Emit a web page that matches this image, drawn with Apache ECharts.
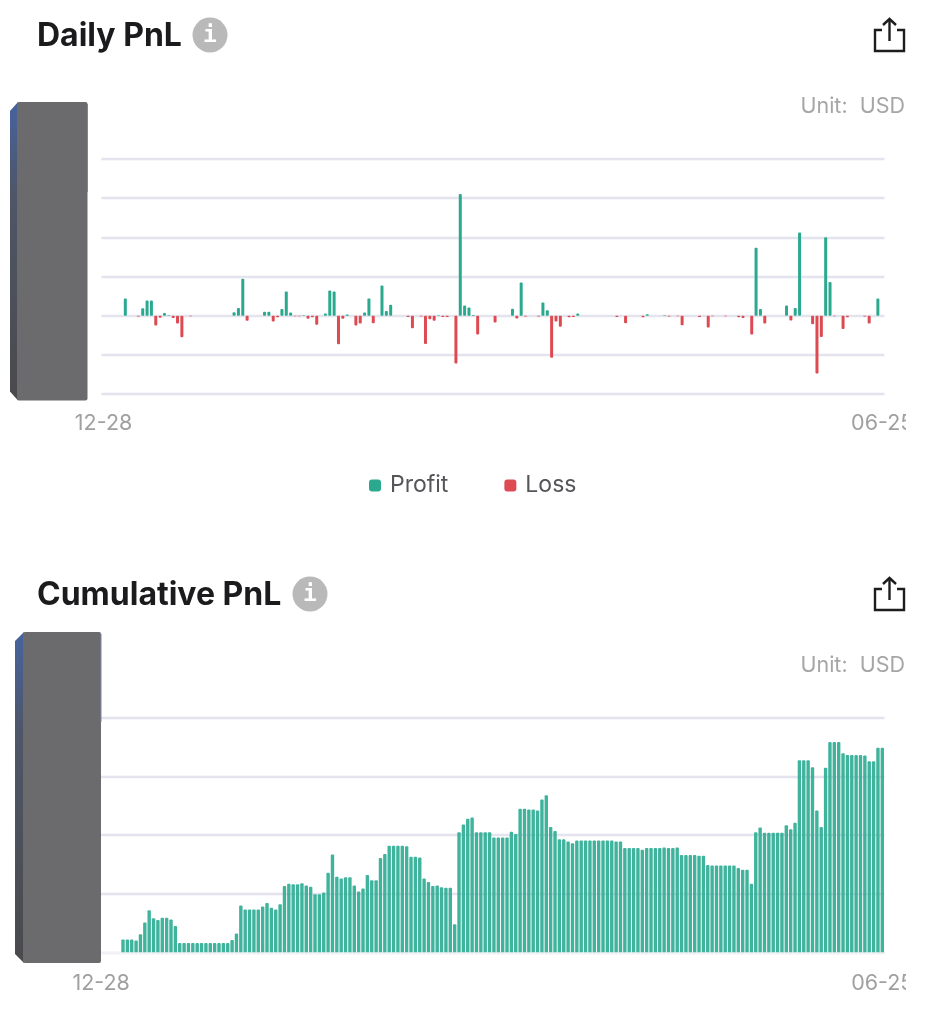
<!DOCTYPE html>
<html><head><meta charset="utf-8">
<style>html,body{margin:0;padding:0;background:#fff}#c{width:944px;height:1024px}</style>
<script src="https://cdn.jsdelivr.net/npm/echarts@6/dist/echarts.min.js"></script>
</head><body><div id="c"></div>
<script>
const dailyPnl = [
0,0,0,0,0,.44,0,0,-.02,.19,
.39,.39,-.25,-.05,.07,.01,-.06,-.2,-.55,0,
-.01,0,0,0,0,0,0,0,0,0,
.09,.2,.94,-.13,0,0,0,.1,.1,-.15,
-.04,.17,.62,.08,-.01,-.01,.01,-.08,-.04,-.23,
0,.06,.64,.62,-.73,-.08,.03,0,-.25,-.2,
.08,.44,-.19,0,.77,.12,.28,0,0,0,
-.03,-.32,0,-.02,-.72,-.09,-.13,.01,-.03,-.03,
0,-1.22,3.1,.26,.21,.02,-.48,0,0,0,
-.17,0,0,0,.18,-.07,.85,-.02,0,0,
-.02,.34,.14,-1.07,-.15,-.28,0,-.04,-.03,.06,
0,0,0,0,0,0,0,0,-.03,0,
-.19,0,0,0,-.04,.04,0,0,0,.01,
-.02,0,-.01,-.24,0,0,0,-.03,0,-.3,
-.01,0,0,-.01,0,0,-.04,-.06,0,-.48,
1.73,.17,-.2,0,0,0,0,.26,-.12,.2,
2.12,0,0,-.22,-1.47,-.54,2.0,.86,-.01,0,
-.34,-.04,0,0,0,-.02,-.2,0,.44,0];
const cumulativePnl = [
null,null,null,null,null,
.22,.22,.22,.20,.31,.51,.72,.58,.55,.59,.59,.56,.45,
.16,.16,.16,.16,.16,.16,.16,.16,.16,.16,.16,.16,
.21,.32,
.80,.73,.73,.73,.73,.78,.84,.76,.73,.82,
1.13,1.17,1.16,1.16,1.18,1.14,1.12,.99,.99,1.02,
1.36,1.67,1.29,1.26,1.28,1.28,1.14,1.04,1.09,1.32,1.23,1.23,
1.61,1.68,1.82,1.82,1.82,1.82,1.81,1.63,1.63,1.62,1.26,1.20,1.13,1.14,1.11,1.10,1.10,.48,
2.05,2.18,2.28,2.30,
2.05,2.05,2.05,2.05,1.96,1.96,1.96,1.96,2.06,2.02,
2.45,2.45,2.44,2.44,2.42,2.61,2.68,
2.14,2.07,1.93,1.93,1.89,1.86,
1.91,1.91,1.91,1.91,1.91,1.91,1.91,1.91,1.91,
1.89,1.89,1.78,1.78,
1.78,1.78,1.75,1.78,1.78,1.78,1.78,1.79,1.78,1.78,1.79,
1.66,1.66,1.66,1.66,1.65,1.65,
1.49,1.48,1.48,1.48,1.48,1.48,1.48,
1.44,1.41,1.41,1.17,
2.05,2.13,2.04,2.04,2.04,2.04,2.04,
2.17,2.10,2.21,
3.28,3.28,3.28,3.16,2.42,2.14,3.15,
3.59,3.59,3.59,3.40,3.37,3.37,3.37,3.37,3.36,3.26,3.26,3.49,3.49];
const firstDay = Date.UTC(2022,11,28);
const categories = dailyPnl.map((_,i)=>new Date(firstDay+i*864e5).toISOString().slice(5,10));
const profit = dailyPnl.map(v=>v>0?v:null);
const loss = dailyPnl.map(v=>v<0?v:null);

const FONT='Inter';
const GREEN='#2ba98f', RED='#dd4a52', GRID='#e4e4ee', TICK='#a0a0a0';
const xAxisBase=(gi,margin)=>({type:'category',gridIndex:gi,data:categories,
  axisLine:{onZero:true,lineStyle:{color:'#f1f1f6',width:2}},axisTick:{show:false},
  axisLabel:{color:TICK,fontFamily:FONT,fontSize:21.5,margin,
    interval:(i)=>i===0||i===categories.length-1,showMinLabel:true,showMaxLabel:true,hideOverlap:false}});
const yAxisBase=(gi,min,max)=>({type:'value',gridIndex:gi,min,max,interval:1,
  axisLine:{show:false},axisTick:{show:false},axisLabel:{show:false},
  splitLine:{lineStyle:{color:GRID,width:2.4}}});

function block(x0,x1,y0,y1,b){return [
  {type:'polygon',z:50,shape:{points:[[x0-b,y0+9],[x0+1,y0],[x0+1,y1],[x0-b,y1-9]]},
   style:{fill:{type:'linear',x:0,y:0,x2:0,y2:1,colorStops:[{offset:0,color:'#46639f'},{offset:.3,color:'#4e5668'},{offset:1,color:'#4a4a4c'}]}}},
  {type:'rect',z:51,shape:{x:x0,y:y0,width:x1-x0,height:y1-y0,r:2},style:{fill:'#6b6b6d'}},
  {type:'line',z:52,shape:{x1:x1,y1:y0+2,x2:x1,y2:y0+90},style:{stroke:'#7a84a8',lineWidth:1}}
];}
function info(cx,cy){return [
  {type:'circle',z:50,shape:{cx,cy,r:17.5},style:{fill:'#b9b9b9'}},
  {type:'text',z:51,style:{x:cx,y:cy+1,text:'i',fill:'#fff',font:'bold 23px "DejaVu Sans Mono"',align:'center',verticalAlign:'middle'}}
];}
function share(dy){const s={stroke:'#1d1d1f',lineWidth:2.4,fill:null};return [
  {type:'polyline',z:50,shape:{points:[[882,30+dy],[875,30+dy],[875,51+dy],[904,51+dy],[904,30+dy],[897,30+dy]]},style:s},
  {type:'polyline',z:50,shape:{points:[[889.5,41+dy],[889.5,19+dy]]},style:s},
  {type:'polyline',z:50,shape:{points:[[883,25+dy],[889.5,19+dy],[896,25+dy]]},style:s}
];}
function unit(y){return {type:'text',z:50,style:{x:905,y,text:'Unit:  USD',fill:'#a6a6a6',font:'21.5px '+FONT,align:'right',verticalAlign:'middle'}};}
const clipRects=[410,965].map(y=>({type:'rect',z:60,shape:{x:906,y,width:38,height:30},style:{fill:'#fff'}}));

const option={
  animation:false,backgroundColor:'#fff',
  title:[
    {text:'Daily PnL',left:32,top:15,textStyle:{fontFamily:FONT,fontWeight:'bold',fontSize:32,color:'#1b1b1d'}},
    {text:'Cumulative PnL',left:32,top:574,textStyle:{fontFamily:FONT,fontWeight:'bold',fontSize:32,color:'#1b1b1d'}}
  ],
  legend:{data:['Profit','Loss'],top:469,left:364,padding:5,itemWidth:12,itemHeight:12,itemGap:56,icon:'roundRect',
    textStyle:{fontFamily:FONT,fontSize:23,color:'#56565a',padding:[0,0,0,4]}},
  grid:[
    {left:101.4,width:783,top:158.8,height:235.4,containLabel:false},
    {left:99,width:785.5,top:718,height:234.3,containLabel:false}
  ],
  xAxis:[
    Object.assign(xAxisBase(0,18),{position:'bottom',axisLine:{onZero:false,show:false}}),
    xAxisBase(1,20)
  ],
  yAxis:[yAxisBase(0,-2,4),yAxisBase(1,0,4)],
  series:[
    {name:'Profit',type:'bar',xAxisIndex:0,yAxisIndex:0,data:profit,barWidth:3,barGap:'-100%',itemStyle:{color:GREEN,borderRadius:1}},
    {name:'Loss',type:'bar',xAxisIndex:0,yAxisIndex:0,data:loss,barWidth:3,barGap:'-100%',itemStyle:{color:RED,borderRadius:1}},
    {name:'Cumulative',type:'bar',xAxisIndex:1,yAxisIndex:1,data:cumulativePnl,barWidth:3.4,itemStyle:{color:'#2fad94',opacity:.92,borderRadius:[1,1,0,0]}}
  ],
  graphic:[].concat(
    block(17,87.5,102,400.5,7),block(23,101,632,963,8),
    info(210,35),info(310,594),share(0),share(559),
    unit(107),unit(666),clipRects)
};
const chart=echarts.init(document.getElementById('c'),null,{renderer:'canvas'});
chart.setOption(option);
</script></body></html>
